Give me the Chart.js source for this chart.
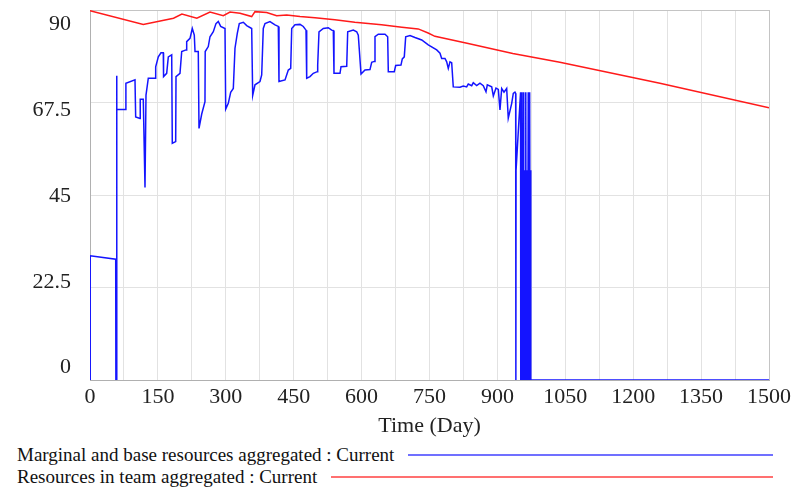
<!DOCTYPE html>
<html>
<head>
<meta charset="utf-8">
<script src="https://cdn.jsdelivr.net/npm/chart.js@4/dist/chart.umd.min.js"></script>
<style>
html,body{margin:0;padding:0;background:#fff;}
#wrap{position:relative;width:793px;height:487px;overflow:hidden;background:#fff;}
#c{position:absolute;left:0;top:0;}
.leg{position:absolute;left:17px;width:756px;height:22px;display:flex;align-items:center;
  font-family:"Liberation Serif","Times New Roman",serif;font-size:19px;color:#111;white-space:nowrap;}
.leg .ln{flex:1;height:2px;margin-left:14px;}
</style>
</head>
<body>
<div id="wrap">
  <canvas id="c" width="793" height="440"></canvas>
  <div class="leg" style="top:444px"><span id="lt1"></span><div class="ln" id="ll1"></div></div>
  <div class="leg" style="top:466px"><span id="lt2"></span><div class="ln" id="ll2"></div></div>
</div>
<script>
// ---------- data ----------
const seriesNames = ["Marginal and base resources aggregated : Current", "Resources in team aggregated : Current"];
const xAxisTitle = "Time (Day)";
const xGridValues = [0,75,150,225,300,375,450,525,600,675,750,825,900,975,1050,1125,1200,1275,1350,1425,1500];
const xTickValues = [0,150,300,450,600,750,900,1050,1200,1350,1500];
const xTickLabels = ["0","150","300","450","600","750","900","1050","1200","1350","1500"];
const yTickValues = [0,22.5,45,67.5,90];
const yTickLabels = ["0","22.5","45","67.5","90"];

// [day, value]
const blueSeries = [
 [0,0],[0.5,30.2],[56.8,29.4],[57.2,0],[58.6,0],[59,74],[59.3,65.8],[78.9,65.8],[79.3,72.2],[99.4,73],
 [100.9,64],[110.5,63.6],[111,68.3],[117.7,68.3],[121.5,46.8],[123.7,69.3],[128.8,73.4],[143.6,73.4],[145.1,76.2],[150.9,78.6],
 [156.8,79.6],[161.9,79.6],[162.5,73.8],[169.4,74.6],[173,78.6],[180.5,79.1],[181.8,57.6],[189.3,58],[190,73.8],[198.8,74.6],
 [202.6,79.9],[212.1,80.3],[213.6,82.3],[220.9,83.1],[226,85.5],[230.4,83.9],[232,79.9],[239.2,79.9],[240.8,61.2],[246.8,64.7],
 [254,67.7],[254.5,79.9],[261.3,81.1],[265.1,83.5],[272.4,84.7],[278.3,86.7],[283.4,87.2],[288.7,86],[298.2,85.5],[299.8,65.9],
 [305.5,67.3],[310.8,70],[316.6,70.9],[320.3,80.7],[325.4,84.3],[329.8,86.7],[338.7,87],[346.2,86.2],[357.2,85.5],[359.4,69.2],
 [364.5,71.8],[375.5,72.6],[379.3,74.2],[382.8,85.5],[386.6,86.7],[397.6,87.2],[408.7,86.4],[416,86],[417.5,72.6],[430.8,73],
 [438.1,75.4],[443.4,75.8],[445.6,85.5],[452.9,86.4],[463.9,86.5],[471.2,86],[477.2,85.1],[478.7,73.4],[486,73.8],[493.3,74.6],
 [502.1,75],[503,76.6],[505.9,84.7],[515.4,85.5],[526.4,85.7],[533.9,85.1],[537.5,85],[539,74.6],[552.3,74.6],[554.5,76.2],
 [567.1,76.3],[569.3,84.7],[581.7,85.1],[589.2,84.7],[592.7,83.9],[598.7,74.4],[607.5,75.4],[618.5,75.5],[622.3,77.3],[628,77.5],
 [629.6,83.5],[636.9,84.1],[651.7,84.1],[657.6,83.5],[659,75],[672.2,75],[675.3,76.5],[687,76.6],[689.9,78.1],[694.3,78.6],
 [697.4,83.5],[706.9,83.8],[717.9,83.3],[732.8,82.7],[747.3,81.5],[765.9,80.3],[773.2,79.5],[776.9,78.2],[784.2,78.2],[788,77.4],
 [791.5,75.8],[795.3,77.4],[799,77.2],[802.5,71.3],[817.4,71.2],[824.6,71.5],[832.1,71.3],[835.7,72],[843.2,71.6],[846.7,72.3],
 [854.2,71.6],[861.5,72.2],[868.8,71.6],[874.8,70.1],[877.7,71.8],[887.4,71.3],[891,69.1],[896.9,71],[902,70.7],[905.7,65.7],
 [909.5,70.9],[914.6,70],[920.5,70.9],[924,63.7],[931.6,67.3],[935.1,69.7],[938.8,70],[940.4,69.7],[940.8,0],[941.2,51],
 [951.2,70],[951.6,0],[953.7,70],[954.6,0],[955.5,51],[956.4,0],[957.3,70],[958.2,0],[959.1,51],[960,0],
 [960.9,51],[961.8,0],[962.7,70],[963.6,0],[964.5,51],[965.4,0],[966.3,51],[967.2,0],[968.1,70],[969,0],
 [969.9,51],[970.8,0],[971.7,70],[972.6,0],[973.5,51],[974,0],[1500,0]
];
const redSeries = [
 [0,89.8],[117.7,86.5],[184.5,88],[203,89],[236,88],[265.1,89.5],[294.5,88.6],[309.3,89.5],[331.4,89.2],[357.2,88.4],
 [364.5,89.6],[390.3,89.4],[412.4,88.6],[434.5,88.8],[463.9,88.4],[497,88.1],[541,87.6],[585,87],[644,86.4],[689,85.8],
 [725,85.4],[747,84.4],[762,83.6],[833,81.9],[934,79.4],[1038,77.3],[1259,72.2],[1500,66.2]
];

// ---------- chart ----------
const FONT = '"Liberation Serif","Times New Roman",serif';
const BLUE = '#1414ff', RED = '#ff1a1a';
const GRID = '#e2e2e2', EDGE = '#c4c4c4', AXIS = '#b0b0b0';

document.getElementById('lt1').textContent = seriesNames[0];
document.getElementById('lt2').textContent = seriesNames[1];
document.getElementById('ll1').style.background = '#7070ff';
document.getElementById('ll2').style.background = '#ff7070';

const toPts = arr => arr.map(p => ({x: p[0], y: p[1]}));

new Chart(document.getElementById('c'), {
  type: 'line',
  data: {
    datasets: [
      {label: seriesNames[0], data: toPts(blueSeries), borderColor: BLUE, borderWidth: 1.5,
       pointRadius: 0, tension: 0, fill: false, order: 2},
      {label: seriesNames[1], data: toPts(redSeries), borderColor: RED, borderWidth: 1.5,
       pointRadius: 0, tension: 0, fill: false, order: 1}
    ]
  },
  options: {
    responsive: false,
    animation: false,
    parsing: false,
    normalized: true,
    layout: {padding: {top: 10, right: 24, left: 0, bottom: 0}},
    plugins: {legend: {display: false}, tooltip: {enabled: false}},
    scales: {
      x: {
        type: 'linear', min: 0, max: 1500,
        afterBuildTicks: s => { s.ticks = xGridValues.map(v => ({value: v})); },
        afterFit: s => { s.height = 60; s.paddingLeft = 0; s.paddingRight = 0; },
        ticks: {
          autoSkip: false, maxRotation: 0, minRotation: 0, padding: 4,
          font: {family: FONT, size: 22}, color: '#222',
          callback: v => { const i = xTickValues.indexOf(v); return i >= 0 ? xTickLabels[i] : ''; }
        },
        grid: {drawTicks: false, lineWidth: 1,
               color: c => (c.tick && c.tick.value === 1500) ? EDGE : GRID},
        border: {color: AXIS, width: 1},
        title: {display: true, text: xAxisTitle, font: {family: FONT, size: 22}, color: '#222',
                padding: {top: 0, bottom: 1}}
      },
      y: {
        type: 'linear', position: 'left', weight: 0, min: 0, max: 90,
        afterBuildTicks: s => { s.ticks = yTickValues.map(v => ({value: v})); },
        afterFit: s => { s.width = 0; s.paddingTop = 0; s.paddingBottom = 0; },
        ticks: {display: false},
        grid: {drawTicks: false, lineWidth: 1,
               color: c => (c.tick && c.tick.value === 90) ? EDGE : GRID},
        border: {color: AXIS, width: 1}
      },
      yl: {
        type: 'linear', position: 'left', weight: 1, min: -3.28, max: 93.8,
        afterBuildTicks: s => { s.ticks = yTickValues.map(v => ({value: v})); },
        afterFit: s => { s.width = 90; s.paddingTop = 0; s.paddingBottom = 0; },
        ticks: {
          padding: 19, font: {family: FONT, size: 22}, color: '#222',
          callback: v => { const i = yTickValues.indexOf(v); return i >= 0 ? yTickLabels[i] : ''; }
        },
        grid: {display: false, drawTicks: false},
        border: {display: false}
      }
    }
  }
});
</script>
</body>
</html>
